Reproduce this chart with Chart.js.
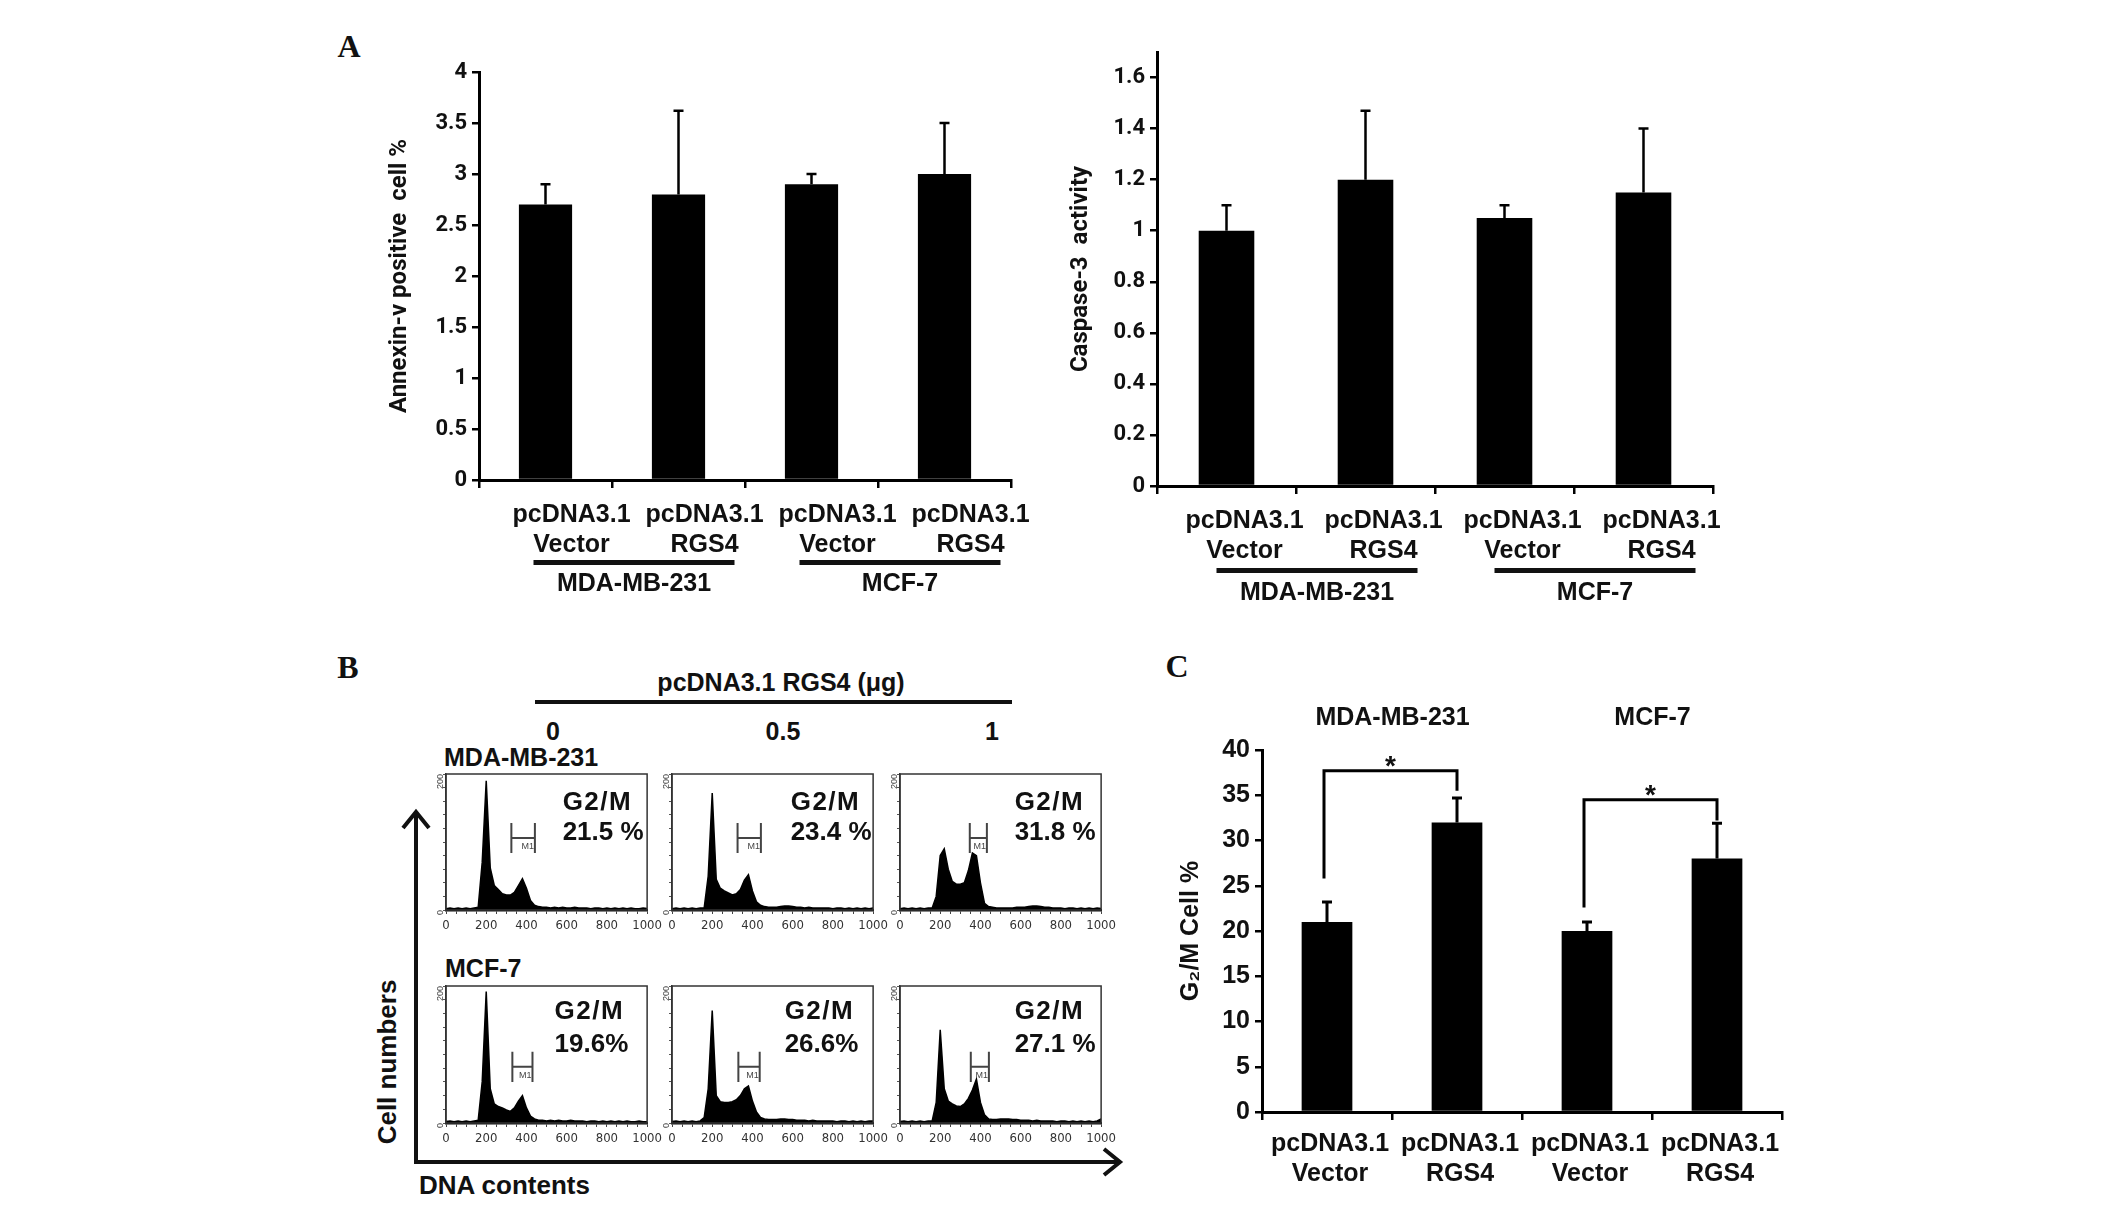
<!DOCTYPE html>
<html>
<head>
<meta charset="utf-8">
<script src="https://cdn.jsdelivr.net/npm/chart.js@4.4.1/dist/chart.umd.min.js"></script>
<style>
body { margin: 0; background: #fff; width: 2126px; height: 1223px; position: relative; overflow: hidden;
       font-family: "Liberation Sans", Arial, sans-serif; color: #111; }
canvas { position: absolute; }
.t { position: absolute; font-weight: bold; white-space: nowrap; line-height: 1; transform: translate(-50%, -50%); }
.lt { position: absolute; font-weight: bold; white-space: nowrap; line-height: 1; transform: translate(0, -50%); }
.panel { position: absolute; font-family: "Liberation Serif", "Times New Roman", serif; font-weight: bold;
         font-size: 32px; line-height: 1; transform: translate(-50%, -50%); }
</style>
</head>
<body>

<svg width="2126" height="1223" style="position:absolute;left:0;top:0">
  <line x1="535" y1="702" x2="1012" y2="702" stroke="#111" stroke-width="4"/>
  <line x1="416" y1="812" x2="416" y2="1162" stroke="#111" stroke-width="4"/>
  <polyline points="403,828 416,812 429,828" fill="none" stroke="#111" stroke-width="4"/>
  <line x1="414" y1="1162" x2="1119" y2="1162" stroke="#111" stroke-width="4"/>
  <polyline points="1104,1149 1120,1162 1104,1175" fill="none" stroke="#111" stroke-width="4"/>
</svg>

<div class="panel" style="left:349px;top:46px">A</div>
<div class="panel" style="left:348px;top:667px">B</div>
<div class="panel" style="left:1177px;top:666px">C</div>

<canvas id="annexin" width="662" height="568" style="left:379px;top:52px"></canvas>
<canvas id="caspase" width="686" height="594" style="left:1057px;top:32px"></canvas>
<canvas id="g2m" width="630" height="512" style="left:1172px;top:690px"></canvas>

<div id="panelB"></div>

<script>
// panel A / C bar values (mean, upper error)
var groupLabels = [['pcDNA3.1', 'Vector'], ['pcDNA3.1', 'RGS4'], ['pcDNA3.1', 'Vector'], ['pcDNA3.1', 'RGS4']];
var annexinMean = [2.7, 2.8, 2.9, 3.0];
var annexinErr = [0.2, 0.82, 0.1, 0.5];
var caspaseMean = [1.0, 1.2, 1.05, 1.15];
var caspaseErr = [0.1, 0.27, 0.05, 0.25];
var g2mMean = [21, 32, 20, 28];
var g2mErr = [2.2, 2.7, 1.0, 3.9];
var cellLines = ['MDA-MB-231', 'MCF-7'];

// significance brackets in C (bracket height, left leg end, right leg end)
var sigTop = [37.7, 34.5];
var sigLeftEnd = [25.8, 22.6];
var sigRightEnd = [35.5, 32.2];

// panel B flow histograms
var doses = ['0', '0.5', '1'];
var dnaBins = [0, 20, 40, 60, 80, 100, 120, 140, 160, 180, 200, 220, 240, 260, 280, 300, 320, 340, 360, 380,
               400, 420, 440, 460, 480, 500, 520, 540, 560, 580, 600, 620, 640, 660, 680, 700, 720, 740, 760, 780,
               800, 820, 840, 860, 880, 900, 920, 940, 960, 980, 1000];
var histMDA0 = [2, 3, 2, 3, 2, 3, 2, 3, 4, 70, 190, 62, 36, 30, 24, 22, 22, 26, 36, 46, 32, 14, 7,
                5, 4, 4, 3, 4, 3, 4, 3, 3, 4, 3, 3, 3, 2, 3, 3, 2, 3, 2, 3, 2, 3, 2, 3, 2, 2, 3, 2];
var histMDA05 = [2, 3, 2, 3, 2, 3, 2, 3, 3, 50, 172, 45, 32, 28, 25, 22, 24, 30, 44, 52, 28, 12, 7,
                 5, 4, 4, 4, 5, 6, 6, 5, 4, 4, 3, 4, 3, 3, 3, 3, 3, 2, 3, 3, 2, 3, 2, 3, 2, 3, 2, 3];
var histMDA1 = [2, 3, 2, 3, 2, 3, 2, 3, 3, 20, 80, 90, 60, 42, 38, 38, 40, 58, 84, 80, 40, 10, 5,
                4, 3, 3, 3, 3, 3, 4, 4, 4, 5, 6, 6, 5, 4, 4, 3, 3, 3, 2, 3, 3, 2, 3, 2, 3, 2, 3, 2];
var histMCF0 = [2, 3, 2, 3, 2, 3, 2, 3, 4, 60, 192, 50, 28, 24, 22, 19, 17, 22, 32, 40, 22, 10, 6,
                4, 4, 3, 4, 3, 4, 3, 3, 4, 3, 3, 3, 2, 3, 3, 2, 3, 2, 3, 2, 3, 2, 3, 2, 2, 3, 2, 2];
var histMCF05 = [2, 3, 2, 3, 2, 3, 2, 3, 8, 50, 164, 40, 31, 30, 30, 31, 34, 40, 50, 54, 32, 16, 8,
                 6, 5, 5, 5, 6, 6, 5, 5, 4, 4, 4, 3, 4, 3, 3, 3, 3, 3, 2, 3, 3, 2, 3, 2, 3, 2, 3, 3];
var histMCF1 = [2, 3, 2, 3, 2, 3, 2, 3, 3, 30, 136, 50, 32, 28, 25, 24, 28, 36, 48, 64, 30, 12, 6,
                5, 5, 6, 6, 6, 5, 5, 4, 4, 4, 3, 4, 3, 3, 3, 3, 2, 3, 3, 2, 3, 2, 3, 2, 3, 2, 3, 6];
var histograms = [[histMDA0, histMDA05, histMDA1], [histMCF0, histMCF05, histMCF1]];
var g2mPct = [['21.5 %', '23.4 %', '31.8 %'], ['19.6%', '26.6%', '27.1 %']];
var m1Gate = [[[325, 442], [326, 442], [347, 432]], [[330, 430], [330, 436], [352, 442]]];
var m1Level = [106, 82];

var SANS = '"Liberation Sans", Arial, sans-serif';
var ROBO = 'Roboto, "Liberation Sans", sans-serif';
var NARROW = '"Liberation Sans Narrow", "DejaVu Sans Condensed", sans-serif';
var INK = '#111';

function trimNum(v) { return String(Math.round(v * 100) / 100); }

var errBarPlugin = {
    id: 'errBars',
    afterDatasetsDraw: function (chart, args, opts) {
        var ctx = chart.ctx, y = chart.scales.y;
        var ds = chart.data.datasets[0], meta = chart.getDatasetMeta(0);
        ctx.save();
        ctx.strokeStyle = '#000';
        ctx.lineWidth = opts.width;
        meta.data.forEach(function (bar, i) {
            var top = y.getPixelForValue(ds.data[i] + opts.errs[i]);
            ctx.beginPath();
            ctx.moveTo(bar.x, bar.y);
            ctx.lineTo(bar.x, top);
            ctx.moveTo(bar.x - opts.cap, top);
            ctx.lineTo(bar.x + opts.cap, top);
            ctx.stroke();
        });
        ctx.restore();
    }
};

// underline + cell line name below the category labels (panel A)
var groupPlugin = {
    id: 'groups',
    afterDraw: function (chart, args, opts) {
        var ctx = chart.ctx, x = chart.scales.x, base = chart.chartArea.bottom;
        ctx.save();
        ctx.fillStyle = INK;
        ctx.font = 'bold 25px ' + SANS;
        ctx.textAlign = 'center';
        ctx.textBaseline = 'middle';
        for (var k = 0; k < cellLines.length; k++) {
            var x0 = x.getPixelForValue(2 * k) + opts.left;
            var x1 = x.getPixelForValue(2 * k + 1) + opts.right;
            ctx.fillRect(x0, base + opts.lineY - 2, x1 - x0, 5);
            ctx.fillText(cellLines[k], (x0 + x1) / 2, base + opts.textY);
        }
        ctx.restore();
    }
};

// panel C: brackets, stars and cell line names on top
var sigPlugin = {
    id: 'sig',
    afterDatasetsDraw: function (chart) {
        var ctx = chart.ctx, x = chart.scales.x, y = chart.scales.y;
        ctx.save();
        ctx.strokeStyle = '#000';
        ctx.fillStyle = INK;
        ctx.lineWidth = 3;
        ctx.textAlign = 'center';
        for (var k = 0; k < sigTop.length; k++) {
            var xl = x.getPixelForValue(2 * k) - 3, xr = x.getPixelForValue(2 * k + 1);
            var yt = y.getPixelForValue(sigTop[k]);
            ctx.beginPath();
            ctx.moveTo(xl, y.getPixelForValue(sigLeftEnd[k]));
            ctx.lineTo(xl, yt);
            ctx.lineTo(xr, yt);
            ctx.lineTo(xr, y.getPixelForValue(sigRightEnd[k]));
            ctx.stroke();
            ctx.font = 'bold 28px ' + SANS;
            ctx.textBaseline = 'alphabetic';
            ctx.fillText('*', (xl + xr) / 2, yt + 4);
            ctx.font = 'bold 25px ' + SANS;
            ctx.textBaseline = 'middle';
            ctx.fillText(cellLines[k], (xl + xr) / 2 + 2, chart.chartArea.top - 32);
        }
        ctx.restore();
    }
};

function barChart(id, means, errs, o) {
    var plugins = [errBarPlugin];
    if (o.groups) plugins.push(groupPlugin);
    if (o.sig) plugins.push(sigPlugin);
    return new Chart(document.getElementById(id), {
        type: 'bar',
        data: {
            labels: groupLabels,
            datasets: [{ data: means, backgroundColor: '#000', borderWidth: 0,
                         barPercentage: o.barPct, categoryPercentage: 1 }]
        },
        options: {
            responsive: false,
            animation: false,
            layout: { padding: { top: o.padTop, right: o.padRight, left: 0, bottom: 0 } },
            plugins: {
                legend: { display: false },
                tooltip: { enabled: false },
                errBars: { errs: errs, cap: 5, width: o.errWidth },
                groups: { left: o.gLeft, right: o.gRight, lineY: o.gLineY, textY: o.gTextY }
            },
            scales: {
                x: {
                    grid: { display: true, drawOnChartArea: false, offset: true, color: '#000', lineWidth: 2.5, tickLength: 8 },
                    border: { color: '#000', width: 3 },
                    ticks: { color: INK, font: { family: SANS, size: 25, weight: 'bold', lineHeight: 1.2 },
                             padding: o.xPad, labelOffset: o.labelOffset, maxRotation: 0, autoSkip: false },
                    afterFit: function (s) { s.height = o.xH; }
                },
                y: {
                    min: 0, max: o.ymax,
                    ticks: { stepSize: o.step, includeBounds: false, color: INK, padding: 5,
                             font: { family: o.tickFamily, size: o.tickSize, weight: 'bold' }, callback: trimNum },
                    grid: { drawOnChartArea: false, color: '#000', lineWidth: 2.5, tickLength: 7 },
                    border: { color: '#000', width: 3 },
                    title: { display: true, text: o.title, color: INK,
                             font: { family: o.titleFamily, size: o.titleSize, weight: 'bold', lineHeight: 1.2 },
                             padding: { top: o.titlePad, bottom: 0 } },
                    afterFit: function (s) { s.width = o.yW; }
                }
            }
        },
        plugins: plugins
    });
}

barChart('annexin', annexinMean, annexinErr, {
    ymax: 4, step: 0.5, title: 'Annexin-v positive  cell %', titleFamily: ROBO, titleSize: 24, tickFamily: ROBO, tickSize: 22,
    yW: 100, titlePad: 7, xH: 140, xPad: 12, labelOffset: 26, padTop: 20, padRight: 30, barPct: 0.4, errWidth: 2.5,
    groups: true, gLeft: -12, gRight: 56, gLineY: 82, gTextY: 104
});
barChart('caspase', caspaseMean, caspaseErr, {
    ymax: 1.7, step: 0.2, title: 'Caspase-3  activity', titleFamily: ROBO, titleSize: 24, tickFamily: ROBO, tickSize: 22,
    yW: 100, titlePad: 10, xH: 140, xPad: 12, labelOffset: 18, padTop: 20, padRight: 30, barPct: 0.4, errWidth: 2.5,
    groups: true, gLeft: -10, gRight: 52, gLineY: 84, gTextY: 107
});
barChart('g2m', g2mMean, g2mErr, {
    ymax: 40, step: 5, title: 'G\u2082/M Cell %', titleFamily: SANS, titleSize: 25, tickFamily: SANS, tickSize: 25,
    yW: 90, titlePad: 4, xH: 90, xPad: 9, labelOffset: 3, padTop: 60, padRight: 20, barPct: 0.39, errWidth: 3,
    sig: true
});

// ---------- panel B ----------
var histPlugin = {
    id: 'histBox',
    afterDraw: function (chart, args, o) {
        var ctx = chart.ctx, a = chart.chartArea, x = chart.scales.x, y = chart.scales.y;
        ctx.save();
        ctx.strokeStyle = '#333';
        ctx.lineWidth = 1.5;
        ctx.strokeRect(a.left, a.top, a.right - a.left, a.bottom - a.top);
        // M1 gate
        var g0 = x.getPixelForValue(o.gate[0]), g1 = x.getPixelForValue(o.gate[1]);
        var gy = y.getPixelForValue(o.level), hh = y.getPixelForValue(0) - y.getPixelForValue(22);
        ctx.strokeStyle = '#444';
        ctx.lineWidth = 2;
        ctx.beginPath();
        ctx.moveTo(g0, gy - hh); ctx.lineTo(g0, gy + hh);
        ctx.moveTo(g1, gy - hh); ctx.lineTo(g1, gy + hh);
        ctx.moveTo(g0, gy); ctx.lineTo(g1, gy);
        ctx.stroke();
        ctx.fillStyle = '#444';
        ctx.font = '9px ' + SANS;
        ctx.textAlign = 'right';
        ctx.textBaseline = 'top';
        ctx.fillText('M1', g1 - 1, gy + 4);
        // G2/M fraction
        var w = a.right - a.left, h = a.bottom - a.top;
        ctx.fillStyle = INK;
        ctx.textAlign = 'left';
        ctx.textBaseline = 'middle';
        ctx.font = 'bold 26px ' + SANS;
        ctx.letterSpacing = '1.5px';
        ctx.fillText('G2/M', a.left + o.tx * w, a.bottom - o.ty1 * h);
        ctx.letterSpacing = '0px';
        ctx.fillText(o.pct, a.left + o.tx * w, a.bottom - o.ty2 * h);
        ctx.restore();
    }
};

var boxCols = [446, 672, 900];
var boxRows = [[774, 136], [986, 137]];
var textX = [[0.58, 0.59, 0.57], [0.54, 0.56, 0.57]];
var textY = [[0.79, 0.57], [0.81, 0.57]];
var holder = document.getElementById('panelB');

function addText(cls, x, y, size, txt) {
    var d = document.createElement('div');
    d.className = cls;
    d.style.left = x + 'px';
    d.style.top = y + 'px';
    d.style.fontSize = size + 'px';
    d.textContent = txt;
    holder.appendChild(d);
    return d;
}

addText('t', 781, 682, 25, 'pcDNA3.1 RGS4 (\u03bcg)');
[553, 783, 992].forEach(function (cx, i) { addText('t', cx, 731, 25, doses[i]); });
addText('lt', 444, 757, 25, cellLines[0]);
addText('lt', 445, 968, 25, cellLines[1]);
addText('lt', 419, 1185, 26, 'DNA contents');
var cn = addText('t', 387, 1062, 26, 'Cell numbers');
cn.style.transform = 'translate(-50%, -50%) rotate(-90deg)';

histograms.forEach(function (row, r) {
    row.forEach(function (counts, c) {
        var L = boxCols[c], T = boxRows[r][0], W = 206, H = boxRows[r][1];
        var cv = document.createElement('canvas');
        cv.width = W + 22 + 14;
        cv.height = H + 14 + 26;
        cv.style.left = (L - 22) + 'px';
        cv.style.top = (T - 14) + 'px';
        holder.appendChild(cv);
        var pts = dnaBins.map(function (b, i) { return { x: b, y: counts[i] }; });
        new Chart(cv, {
            type: 'line',
            data: { datasets: [{ data: pts, fill: 'origin', backgroundColor: '#000', borderColor: '#000',
                                 borderWidth: 1.5, pointRadius: 0, tension: 0 }] },
            options: {
                responsive: false,
                animation: false,
                layout: { padding: { top: 14, right: 14, left: 0, bottom: 0 } },
                plugins: {
                    legend: { display: false },
                    tooltip: { enabled: false },
                    histBox: { gate: m1Gate[r][c], level: m1Level[r], pct: g2mPct[r][c],
                               tx: textX[r][c], ty1: textY[r][0], ty2: textY[r][1] }
                },
                scales: {
                    x: {
                        type: 'linear', min: 0, max: 1000,
                        ticks: { stepSize: 50, autoSkip: false, maxRotation: 0, color: '#333', padding: 4,
                                 font: { family: NARROW, size: 13 },
                                 callback: function (v) { return v % 200 === 0 ? String(v) : ''; } },
                        grid: { drawOnChartArea: false, color: '#444', lineWidth: 1, tickLength: 4 },
                        border: { color: '#111', width: 2.5 },
                        afterFit: function (s) { s.height = 26; }
                    },
                    y: {
                        min: 0, max: 200,
                        ticks: { stepSize: 20, autoSkip: false, minRotation: 90, maxRotation: 90, color: '#444', padding: 2,
                                 font: { family: SANS, size: 9 },
                                 callback: function (v) { return (v === 0 || v === 200) ? String(v) : ''; } },
                        grid: { drawOnChartArea: false, color: '#555', lineWidth: 1, tickLength: 3 },
                        border: { color: '#333', width: 1.5 },
                        afterFit: function (s) { s.width = 22; }
                    }
                }
            },
            plugins: [histPlugin]
        });
    });
});
</script>
</body>
</html>
